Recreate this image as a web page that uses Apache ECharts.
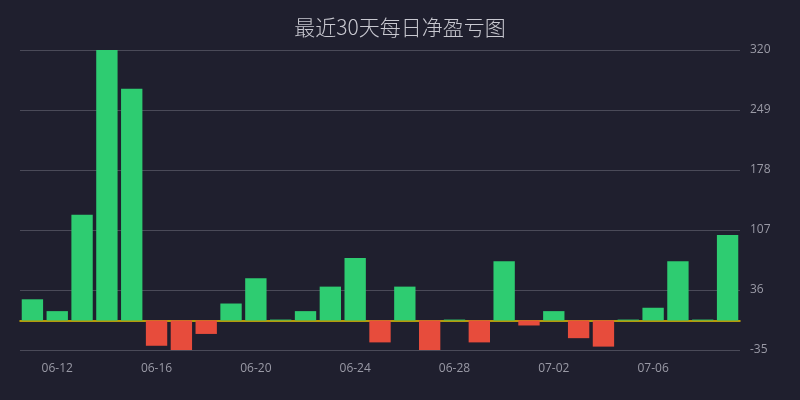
<!DOCTYPE html>
<html>
<head>
<meta charset="utf-8">
<script src="https://cdn.jsdelivr.net/npm/echarts@6/dist/echarts.min.js"></script>
<style>
html,body{margin:0;padding:0;background:#1f1f2e;}
#pnlChart{width:800px;height:400px;}
</style>
</head>
<body>
<div id="pnlChart"></div>
<script>
// 日期
var days = ['06-11','06-12','06-13','06-14','06-15','06-16','06-17','06-18','06-19','06-20',
	'06-21','06-22','06-23','06-24','06-25','06-26','06-27','06-28','06-29','06-30',
	'07-01','07-02','07-03','07-04','07-05','07-06','07-07','07-08','07-09'];
// 每日净盈亏
var pnl = [25, 11, 125, 320, 274, -30, -36, -16, 20, 50,
	1, 11, 40, 74, -26, 40, -36, 1, -26, 70,
	-6, 11, -21, -31, 1, 15, 70, 1, 101];
var yMin = -35, yMax = 320, yStep = 71;

var myChart = echarts.init(document.getElementById('pnlChart'));

var option = {
	backgroundColor : '#1f1f2e',
	title : {
		text : '最近30天每日净盈亏图',
		left : 'center',
		top : 12,
		textStyle : {
			color : '#c8c8d0',
			fontSize : 21,
			fontWeight : 300,
			fontFamily : 'Noto Sans CJK SC'
		}
	},
	grid : {
		left : 20,
		right : 60,
		top : 50,
		bottom : 50
	},
	xAxis : {
		type : 'category',
		data : days,
		z : 0,
		axisTick : { show : false },
		axisLine : {
			onZero : true,
			lineStyle : { color : '#e6c300', width : 1.5 }
		},
		axisLabel : {
			color : '#9a9aa6',
			fontSize : 12,
			fontFamily : 'Open Sans',
			margin : 13
		}
	},
	yAxis : {
		type : 'value',
		position : 'right',
		min : yMin,
		max : yMax,
		interval : yStep,
		axisLine : { show : false },
		axisTick : { show : false },
		axisLabel : { color : '#9a9aa6', fontSize : 12, fontFamily : 'Open Sans', margin : 10 },
		splitLine : { lineStyle : { color : '#4a4a58', width : 1 } }
	},
	series : [ {
		type : 'bar',
		z : 10,
		barCategoryGap : '14%',
		data : pnl.map(function(v) {
			return {
				value : v,
				itemStyle : { color : v >= 0 ? '#2ecc71' : '#e74c3c' }
			};
		})
	} ]
};

// 从06-12开始每隔4天显示一个标签
option.xAxis.axisLabel.interval = function(idx) {
	return idx > 0 && (idx - 1) % 4 === 0;
};

myChart.setOption(option);
</script>
</body>
</html>
